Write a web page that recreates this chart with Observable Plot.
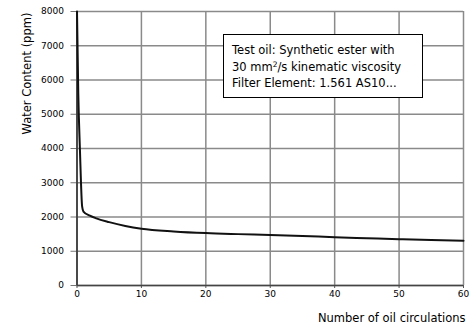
<!DOCTYPE html>
<html>
<head>
<meta charset="utf-8">
<script src="https://cdn.jsdelivr.net/npm/d3@7"></script>
<script src="https://cdn.jsdelivr.net/npm/@observablehq/plot@0.6"></script>
<style>
  body { margin: 0; background: #fff; }
  #wrap { position: relative; width: 470px; height: 331px; font-family: "DejaVu Sans", sans-serif; }
  #note {
    position: absolute; left: 223px; top: 34px; width: 190px; height: 55px;
    border: 1px solid #000; background: #fff; padding: 7px 0 0 8px;
    font-size: 11.5px; line-height: 16.5px; color: #000; white-space: nowrap;
  }
  #note sup { font-size: 7.5px; vertical-align: 4px; line-height: 0; }
</style>
</head>
<body>
<div id="wrap"></div>
<script>
const circulations = [0, 0.2, 0.45, 0.8, 1.0, 2, 3, 5, 7.5, 10, 15, 20, 25, 30, 35, 40, 45, 50, 55, 60];
const waterPpm   = [8000, 5600, 4000, 2300, 2160, 2040, 1960, 1850, 1740, 1660, 1580, 1530, 1500, 1475, 1445, 1410, 1380, 1350, 1325, 1305];
const xTicks = [0, 10, 20, 30, 40, 50, 60];
const yTicks = [0, 1000, 2000, 3000, 4000, 5000, 6000, 7000, 8000];
const yTitle = "Water Content (ppm)";
const xTitle = "Number of oil circulations";
const noteLines = ["Test oil: Synthetic ester with", "30 mm<sup>2</sup>/s kinematic viscosity", "Filter Element: 1.561 AS10..."];

const data = circulations.map((x, i) => ({x, y: waterPpm[i]}));

const chart = Plot.plot({
  width: 470,
  height: 331,
  marginLeft: 76.5,
  marginRight: 7,
  marginTop: 11,
  marginBottom: 46,
  style: {fontFamily: "DejaVu Sans, sans-serif", fontSize: "9px", color: "#000", background: "#fff"},
  x: {domain: [0, 60], label: null},
  y: {domain: [0, 8000], label: null},
  marks: [
    Plot.gridX(xTicks, {stroke: "#8a8a8a", strokeWidth: 1.5, strokeOpacity: 1}),
    Plot.gridY(yTicks, {stroke: "#8a8a8a", strokeWidth: 1.5, strokeOpacity: 1}),
    Plot.axisX(xTicks, {tickSize: 3, tickPadding: 2, stroke: "#555", label: null, tickFormat: d => String(d)}),
    Plot.axisY(yTicks, {tickSize: 6, tickPadding: 7, stroke: "#777", label: null, tickFormat: d => String(d)}),
    Plot.ruleX([0], {stroke: "#333", strokeWidth: 1.6}),
    Plot.ruleY([0], {stroke: "#444", strokeWidth: 1.6}),
    Plot.line(data, {x: "x", y: "y", stroke: "#111", strokeWidth: 2, curve: "monotone-x"}),
    Plot.text([yTitle], {frameAnchor: "top-left", rotate: -90, dx: -54.5, dy: 62, fontSize: 11.5, fill: "#000", textAnchor: "middle"}),
    Plot.text([xTitle], {frameAnchor: "bottom-right", dx: 2, dy: 36, fontSize: 11.5, fill: "#000", textAnchor: "end"})
  ]
});

const wrap = document.getElementById("wrap");
wrap.appendChild(chart);
const note = document.createElement("div");
note.id = "note";
note.innerHTML = noteLines.join("<br>");
wrap.appendChild(note);
</script>
</body>
</html>
